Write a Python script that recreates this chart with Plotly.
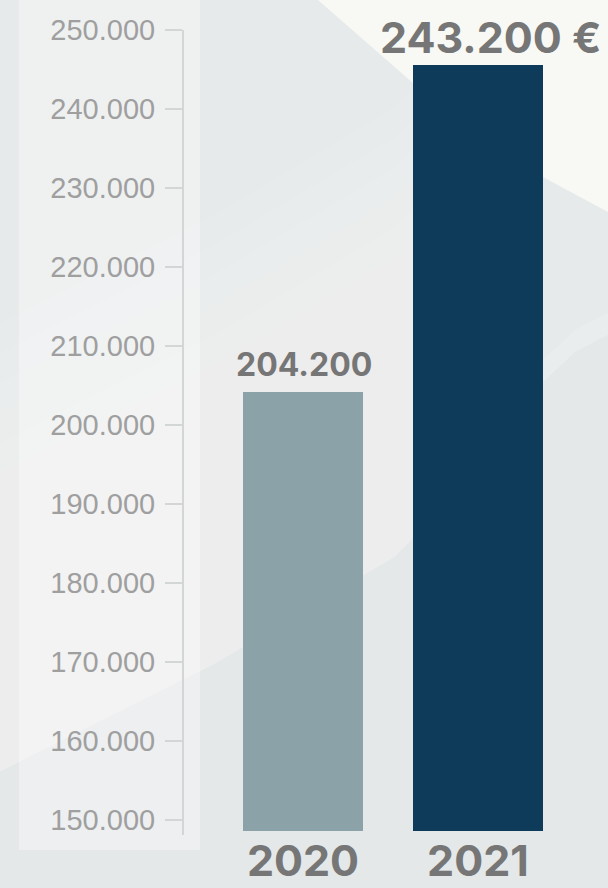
import plotly.graph_objects as go

# ---- data ----
years = ["2020", "2021"]
bar_heights = [204200, 245600]          # bar tops as drawn in the picture
value_labels = ["204.200", "243.200 €"]
label_sizes = [32, 43]
bar_colors = ["#8ba3a8", "#0f3b5a"]
bar_widths = [0.6857, 0.743]
tick_values = [150000, 160000, 170000, 180000, 190000, 200000,
               210000, 220000, 230000, 240000, 250000]
tick_labels = ["150.000", "160.000", "170.000", "180.000", "190.000", "200.000",
               "210.000", "220.000", "230.000", "240.000", "250.000"]

# ---- layout geometry (pixels) ----
WIDTH, HEIGHT = 608, 888
L, R, T, B = 183, 0, 0, 57
PW, PH = WIDTH - L - R, HEIGHT - T - B


def px(x):
    return (x - L) / PW


def py(y):
    return (T + PH - y) / PH


def poly(points):
    p = " L ".join(f"{px(x):.5f},{py(y):.5f}" for x, y in points)
    return f"M {p} Z"


grey_text = "#767676"
tick_col = "#d3d6d7"

fig = go.Figure()
fig.add_trace(go.Bar(
    x=years, y=bar_heights, width=bar_widths,
    marker=dict(color=bar_colors, line=dict(width=0)),
    hoverinfo="skip", showlegend=False,
))

# soft fold line across the background
curve = [(0, 772), (215, 664), (395, 557), (480, 470)]
curve_r = [(540, 385), (575, 352), (640, 318)]

shapes = [
    dict(type="path", xref="paper", yref="paper",
         path=poly(curve + curve_r + [(640, 900), (0, 900)]),
         fillcolor="#e4e8e9", line=dict(width=0), layer="below"),
]
# light gradient above the fold (left part; its right edge hides behind the 2021 bar)
for d in range(30, 451, 30):
    upper = [(x, y - d) for x, y in reversed(curve)]
    shapes.append(dict(type="path", xref="paper", yref="paper",
                       path=poly(curve + upper),
                       fillcolor="rgba(252,252,246,0.05)", line=dict(width=0), layer="below"))
# faint streak on the right of the 2021 bar
shapes.append(dict(type="path", xref="paper", yref="paper",
                   path=poly(curve_r + [(x, y - 22) for x, y in reversed(curve_r)]),
                   fillcolor="rgba(252,252,248,0.2)", line=dict(width=0), layer="below"))

shapes += [
    # light top-right triangle
    dict(type="path", xref="paper", yref="paper",
         path=poly([(318, 0), (608, 0), (608, 212), (543, 177), (413, 83)]),
         fillcolor="#f8f9f5", line=dict(width=0), layer="below"),
    # left axis panel
    dict(type="rect", xref="paper", yref="paper", x0=px(19), x1=px(200), y0=py(850), y1=py(-5),
         fillcolor="rgba(255,255,255,0.33)", line=dict(width=0), layer="below"),
    # axis line
    dict(type="line", xref="paper", yref="paper", x0=px(183), x1=px(183), y0=py(30), y1=py(835),
         line=dict(color=tick_col, width=2), layer="below"),
]

annotations = []
for i, (h, lab, fs) in enumerate(zip(bar_heights, value_labels, label_sizes)):
    annotations.append(dict(
        x=i, y=h, xref="x", yref="y", text=f"<b>{lab}</b>", showarrow=False,
        yanchor="bottom", xanchor="center", yshift=6 if i == 0 else 0, xshift=1 if i == 0 else 13,
        font=dict(family="Inter", size=fs, color=grey_text),
    ))

yrange = [150000 - 11 / 0.0079, 250000 + 30 / 0.0079]

fig.update_layout(
    width=WIDTH, height=HEIGHT, autosize=False,
    margin=dict(l=L, r=R, t=T, b=B, pad=0),
    paper_bgcolor="#e7eaeb", plot_bgcolor="rgba(0,0,0,0)",
    shapes=shapes, annotations=annotations, bargap=0,
    xaxis=dict(type="category", range=[-0.6857, 1.743], showgrid=False, showline=False,
               zeroline=False, ticks="", ticklabelstandoff=1, automargin=False,
               tickfont=dict(family="Inter", size=43, color=grey_text, weight="bold")),
    yaxis=dict(range=yrange, tickvals=tick_values, ticktext=tick_labels, showgrid=False,
               showline=False, zeroline=False, ticks="outside", ticklen=17, tickwidth=1.5,
               tickcolor=tick_col, ticklabelstandoff=4, automargin=False,
               tickfont=dict(family="Liberation Sans", size=29, color="#9f9f9f")),
    yaxis2=dict(range=yrange, overlaying="y", side="left", anchor="x", tickvals=tick_values,
                showticklabels=False, showgrid=False, showline=False, zeroline=False,
                ticks="inside", ticklen=17, tickwidth=1.5, tickcolor=tick_col, automargin=False),
)

fig.write_html("out.html", config={"displayModeBar": False},
               post_script="document.body.style.margin='0';")
